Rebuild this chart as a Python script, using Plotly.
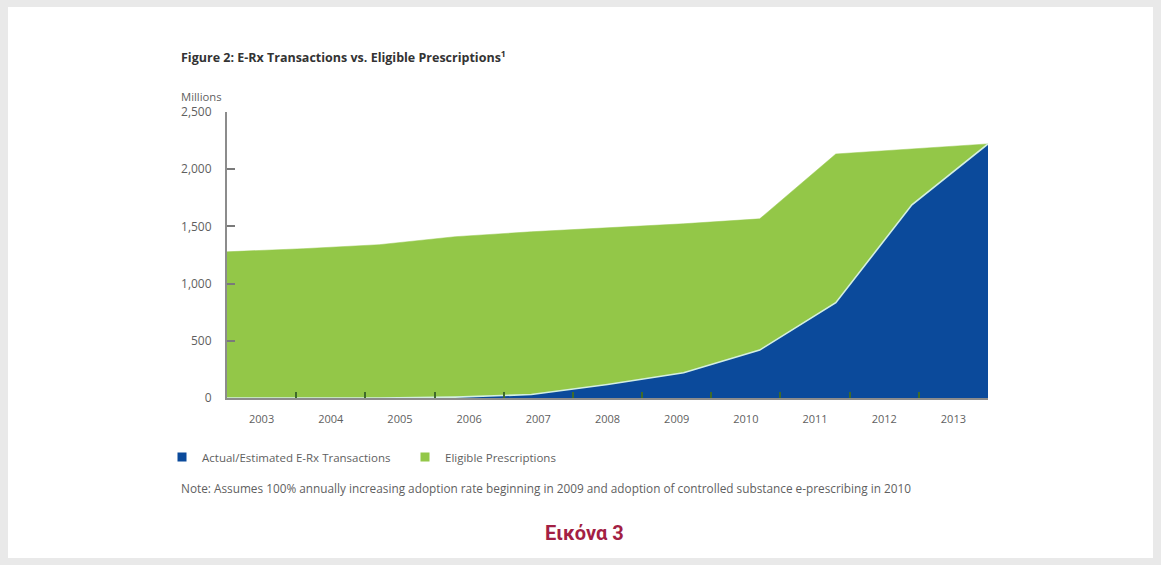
import plotly.graph_objects as go

years = [2003, 2004, 2005, 2006, 2007, 2008, 2009, 2010, 2011, 2012, 2013]
year_labels = [str(y) for y in years]
eligible = [1278, 1305, 1340, 1410, 1453, 1488, 1523, 1566, 2133, 2177, 2221]
erx = [0, 0, 0, 8, 30, 118, 220, 419, 833, 1689, 2221]

names = ["Actual/Estimated E-Rx Transactions", "Eligible Prescriptions"]
GREEN = "#93c748"
BLUE = "#0b4a9b"
TXT = "#5f5f5f"
FONT = "Open Sans"

fig = go.Figure()

# Areas (data points span edge to edge of the plot)
fig.add_trace(go.Scatter(x=years, y=eligible, mode="lines", fill="tozeroy",
                         fillcolor=GREEN, line=dict(color=GREEN, width=0.5),
                         showlegend=False, hoverinfo="x+y"))
fig.add_trace(go.Scatter(x=years, y=erx, mode="lines", fill="tozeroy",
                         fillcolor=BLUE, line=dict(color="#d4efe2", width=1.6),
                         showlegend=False, hoverinfo="x+y"))

# Category axis carrying the year labels (centered in bands)
fig.add_trace(go.Scatter(x=year_labels, y=eligible, mode="none", xaxis="x2",
                         showlegend=False, hoverinfo="skip"))

# Legend entries as squares
fig.add_trace(go.Scatter(x=[None], y=[None], mode="markers", name=names[0],
                         marker=dict(symbol="square", size=9, color=BLUE)))
fig.add_trace(go.Scatter(x=[None], y=[None], mode="markers", name=names[1],
                         marker=dict(symbol="square", size=9, color=GREEN)))

L, R, T, B = 227, 173, 112, 167
W, H = 1161, 565
pw, ph = W - L - R, H - T - B


def px_x(p):
    return (p - L) / pw


def px_y(p):
    return (H - B - p) / ph


fig.update_layout(
    width=W, height=H,
    margin=dict(l=L, r=R, t=T, b=B, pad=0),
    paper_bgcolor="#e9e9e9",
    plot_bgcolor="rgba(0,0,0,0)",
    font=dict(family=FONT, size=11, color=TXT),
    xaxis=dict(range=[years[0], years[-1]], showgrid=False, zeroline=False,
               showticklabels=False, ticks="", showline=False, fixedrange=True),
    xaxis2=dict(type="category", categoryorder="array", categoryarray=year_labels,
                range=[-0.5, len(years) - 0.5], overlaying="x", anchor="y", side="bottom",
                tickson="boundaries", ticks="inside", ticklen=6, tickwidth=1.5,
                tickcolor="#3f6b2a", showgrid=False, zeroline=False,
                showline=True, linecolor="#8c8c8c", linewidth=2,
                tickfont=dict(size=11, color=TXT), ticklabelstandoff=10),
    yaxis=dict(range=[0, 2500], tickvals=[0, 500, 1000, 1500, 2000, 2500],
               tickformat=",", showgrid=False, zeroline=False,
               ticks="inside", ticklen=8, tickwidth=1.5, tickcolor="#7a7a7a",
               showline=True, linecolor="#8c8c8c", linewidth=2,
               tickfont=dict(size=12, color=TXT), ticklabelstandoff=11),
    legend=dict(orientation="h", x=px_x(162), xanchor="left", y=px_y(457),
                yanchor="middle", font=dict(size=11.5, color=TXT, family=FONT),
                itemwidth=30, entrywidth=198, entrywidthmode="pixels",
                bgcolor="rgba(0,0,0,0)", traceorder="normal"),
    showlegend=True,
    shapes=[dict(type="rect", xref="paper", yref="paper", layer="below",
                 x0=px_x(8), x1=px_x(1153), y0=px_y(558), y1=px_y(7),
                 fillcolor="white", line=dict(width=0))],
    annotations=[
        dict(text="<b>Figure 2: E-Rx Transactions vs. Eligible Prescriptions<sup>1</sup></b>",
             xref="paper", yref="paper", x=px_x(179), y=px_y(57), xanchor="left",
             yanchor="middle", showarrow=False, font=dict(size=12.5, color="#333333")),
        dict(text="Millions", xref="paper", yref="paper", x=px_x(179), y=px_y(97),
             xanchor="left", yanchor="middle", showarrow=False,
             font=dict(size=11.3, color=TXT)),
        dict(text="Note: Assumes 100% annually increasing adoption rate beginning in 2009 "
                  "and adoption of controlled substance e-prescribing in 2010",
             xref="paper", yref="paper", x=px_x(179), y=px_y(488), xanchor="left",
             yanchor="middle", showarrow=False, font=dict(size=11.8, color=TXT)),
        dict(text="<b>Εικόνα 3</b>", xref="paper", yref="paper", x=px_x(584), y=px_y(533),
             xanchor="center", yanchor="middle", showarrow=False,
             font=dict(family="Roboto", size=20, color="#a31f44")),
    ],
)

fig.write_html("out.html")
